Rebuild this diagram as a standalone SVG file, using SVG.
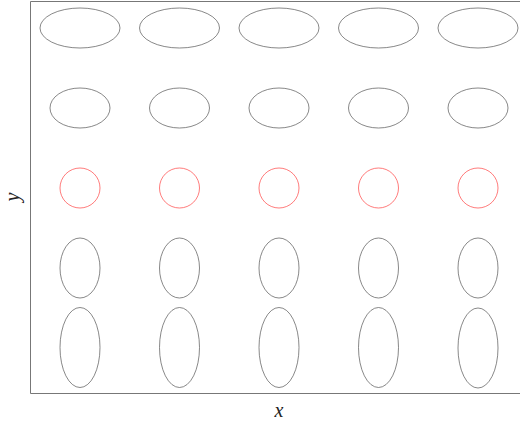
<svg xmlns="http://www.w3.org/2000/svg" width="520" height="425" viewBox="0 0 520 425">
<style>
.e{fill:none;stroke:#555;stroke-width:0.7}
.c{fill:none;stroke:#f44;stroke-width:0.7}
.frame{fill:none;stroke:#777;stroke-width:1}
.lbl{font-family:"Liberation Serif","DejaVu Serif",serif;font-style:italic;font-size:20px;fill:#222}
</style>
<rect width="520" height="425" fill="#fff"/>
<path class="frame" d="M521 1.5H30.5V393.5H521"/>
<g id="row1">
<ellipse class="e" cx="80" cy="28" rx="40" ry="20"/>
<ellipse class="e" cx="179.5" cy="28" rx="40" ry="20"/>
<ellipse class="e" cx="279" cy="28" rx="40" ry="20"/>
<ellipse class="e" cx="378.5" cy="28" rx="40" ry="20"/>
<ellipse class="e" cx="478" cy="28" rx="40" ry="20"/>
</g>
<g id="row2">
<ellipse class="e" cx="80" cy="108" rx="30" ry="20"/>
<ellipse class="e" cx="179.5" cy="108" rx="30" ry="20"/>
<ellipse class="e" cx="279" cy="108" rx="30" ry="20"/>
<ellipse class="e" cx="378.5" cy="108" rx="30" ry="20"/>
<ellipse class="e" cx="478" cy="108" rx="30" ry="20"/>
</g>
<g id="row3">
<circle class="c" cx="80" cy="188" r="20"/>
<circle class="c" cx="179.5" cy="188" r="20"/>
<circle class="c" cx="279" cy="188" r="20"/>
<circle class="c" cx="378.5" cy="188" r="20"/>
<circle class="c" cx="478" cy="188" r="20"/>
</g>
<g id="row4">
<ellipse class="e" cx="80" cy="268" rx="20" ry="30"/>
<ellipse class="e" cx="179.5" cy="268" rx="20" ry="30"/>
<ellipse class="e" cx="279" cy="268" rx="20" ry="30"/>
<ellipse class="e" cx="378.5" cy="268" rx="20" ry="30"/>
<ellipse class="e" cx="478" cy="268" rx="20" ry="30"/>
</g>
<g id="row5">
<ellipse class="e" cx="80" cy="347.5" rx="20" ry="40"/>
<ellipse class="e" cx="179.5" cy="347.5" rx="20" ry="40"/>
<ellipse class="e" cx="279" cy="347.5" rx="20" ry="40"/>
<ellipse class="e" cx="378.5" cy="347.5" rx="20" ry="40"/>
<ellipse class="e" cx="478" cy="348" rx="20" ry="40"/>
</g>
<text class="lbl" x="279" y="417" text-anchor="middle">x</text>
<text class="lbl" transform="translate(19,197) rotate(-90)" text-anchor="middle">y</text>
</svg>
